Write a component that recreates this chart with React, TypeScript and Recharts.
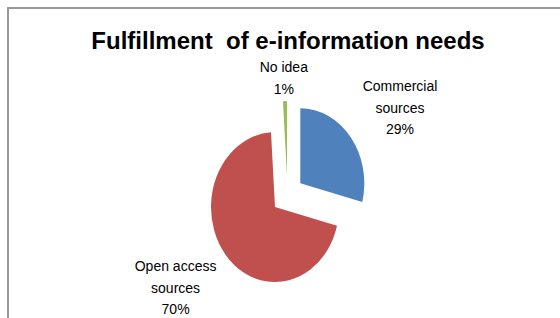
import React from 'react';
import { PieChart, Pie, Cell } from 'recharts';

const categories = ['Commercial sources', 'Open access sources', 'No idea'];
const labelLines = [['Commercial', 'sources'], ['Open access', 'sources'], ['No idea']];
const shares = [29, 70, 1];
const colors = ['#4F81BD', '#C0504D', '#9BBB59'];
const title = 'Fulfillment  of e-information needs';

const data = categories.map((name, i) => ({ name, value: shares[i] }));

const CX = 287.5;
const CY = 195;
const R = 75;
const SX = 64 / 75;
const EXPLODE = 19;
const LABEL_R0 = 95;
const FONT = '"Liberation Sans", Arial, sans-serif';
const NO_MARGIN = { top: 0, right: 0, bottom: 0, left: 0 };

const total = shares.reduce((a, b) => a + b, 0);
const midAngles = shares.map((v, i) => {
  const before = shares.slice(0, i).reduce((a, b) => a + b, 0);
  return 90 - (360 * (before + v / 2)) / total;
});

const renderLabel = (props: any) => {
  const i = props.index as number;
  const a = (midAngles[i] * Math.PI) / 180;
  const c = Math.cos(a);
  const s = Math.sin(a);
  const lines = [...labelLines[i], `${shares[i]}%`];
  const maxLen = Math.max(...lines.map((l) => l.length));
  const w = maxLen * 7;
  const lh = 21.5;
  const h = lines.length * lh;
  const d = LABEL_R0 + 0.5 * (Math.abs(c) * w + Math.abs(s) * h);
  const bx = CX + d * c;
  const by = CY - d * s;
  const top = by - h / 2;
  return (
    <text key={`lbl-${i}`} x={bx} textAnchor="middle" fontSize={14} fontFamily={FONT} fill="#000">
      {lines.map((l, j) => (
        <tspan key={j} x={bx} y={top + 16 + j * lh}>
          {l}
        </tspan>
      ))}
    </text>
  );
};

export default function App() {
  return (
    <div style={{ position: 'absolute', left: 0, top: 0, width: 560, height: 318, overflow: 'hidden', background: '#fff' }}>
      <div
        style={{
          position: 'absolute',
          left: 7,
          top: 7,
          width: 600,
          height: 400,
          borderLeft: '2px solid #9a9a9a',
          borderTop: '2px solid #9a9a9a',
          boxSizing: 'border-box',
        }}
      />
      <div style={{ position: 'absolute', left: 0, top: 0, transform: `scaleX(${SX})`, transformOrigin: '0 0' }}>
        <PieChart width={Math.ceil(560 / SX)} height={318} margin={NO_MARGIN}>
          {shares.map((_, k) => {
            const a = (midAngles[k] * Math.PI) / 180;
            const dx = EXPLODE * Math.cos(a);
            const dy = -EXPLODE * Math.sin(a);
            return (
              <Pie
                key={`p${k}`}
                data={data}
                dataKey="value"
                nameKey="name"
                cx={CX / SX + dx}
                cy={CY + dy}
                outerRadius={R}
                startAngle={90}
                endAngle={-270}
                stroke="none"
                isAnimationActive={false}
              >
                {data.map((_, j) => (
                  <Cell key={j} fill={j === k ? colors[j] : 'none'} stroke="none" />
                ))}
              </Pie>
            );
          })}
        </PieChart>
      </div>
      <div style={{ position: 'absolute', left: 0, top: 0 }}>
        <PieChart width={560} height={318} margin={NO_MARGIN}>
          <text
            x={288}
            y={49}
            textAnchor="middle"
            fontSize={24}
            fontWeight="bold"
            fontFamily={FONT}
            fill="#000"
            style={{ whiteSpace: 'pre' }}
          >
            {title}
          </text>
          <Pie
            data={data}
            dataKey="value"
            nameKey="name"
            cx={CX}
            cy={CY}
            outerRadius={R}
            startAngle={90}
            endAngle={-270}
            fill="none"
            stroke="none"
            label={renderLabel}
            labelLine={false}
            isAnimationActive={false}
          >
            {data.map((_, j) => (
              <Cell key={j} fill="none" stroke="none" />
            ))}
          </Pie>
        </PieChart>
      </div>
    </div>
  );
}
